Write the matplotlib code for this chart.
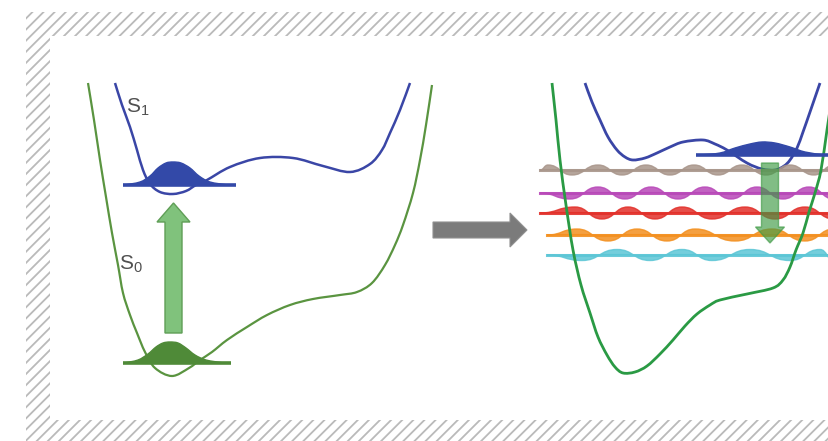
import numpy as np
import matplotlib
matplotlib.use("Agg")
from matplotlib import pyplot as plt
from matplotlib.path import Path
from matplotlib.patches import PathPatch, Rectangle, FancyArrow

W, H = 829, 441

# potential curves, points (pixel coords, y down)
S0_LEFT_X = [88, 94, 100, 106, 112, 118, 123, 130, 137, 145, 155, 172, 189, 200, 212, 227, 247,
             267, 290, 313, 340, 357, 372, 385, 395, 403, 413, 420, 426, 432]
S0_LEFT_Y = [83, 120, 160, 197, 233, 265, 293, 315, 333, 352, 368, 376, 368, 360, 352, 340, 327,
             315, 305, 299, 295, 292, 283, 265, 245, 225, 193, 160, 125, 85]
S1_LEFT_X = [115, 122, 130, 137, 143, 150, 160, 173, 186, 196, 207, 230, 260, 293, 323, 350, 370,
             382, 390, 400, 410]
S1_LEFT_Y = [83, 105, 127, 150, 170, 184, 192, 194, 191, 185, 180, 167, 158, 158, 166, 172, 164,
             150, 133, 110, 83]
S0_RIGHT_X = [552, 556, 560, 566, 573, 581, 590, 598, 607, 615, 623, 635, 647, 660, 673, 685, 697,
              710, 720, 747, 773, 783, 790, 796, 803, 809, 815, 821, 827, 833]
S0_RIGHT_Y = [83, 120, 160, 205, 250, 285, 313, 337, 355, 367, 373, 372, 366, 354, 340, 326, 314,
              305, 300, 294, 288, 280, 267, 250, 233, 212, 193, 170, 130, 90]
S1_RIGHT_X = [585, 592, 600, 608, 617, 625, 633, 645, 657, 670, 683, 703, 715, 727, 747, 762, 775,
              784, 790, 797, 803, 810, 820]
S1_RIGHT_Y = [83, 102, 120, 137, 150, 157, 160, 158, 153, 147, 142, 140, 144, 150, 163, 169, 170,
              166, 160, 148, 132, 112, 83]

# wave packets: outline points of each bell, baseline tails
BELL_X = [
    [124, 140, 150, 158, 166, 173, 181, 190, 199, 210, 228],
    [124, 138, 148, 156, 163, 170, 178, 186, 195, 206, 224],
    [700, 720, 735, 750, 762, 775, 790, 805, 824],
]
BELL_Y = [
    [185, 182, 176, 168, 163, 162, 163, 168, 176, 182, 185],
    [363, 360, 354, 347, 343, 342, 343, 348, 355, 360, 363],
    [155, 153, 148, 144, 142, 143, 147, 152, 155],
]
PACKET_TAIL = [(123, 236), (123, 231), (696, 832)]
PACKET_COLOR = ["#3349a8", "#4f8a38", "#3349a8"]

# vibrational levels on the right: baseline, start x, extrema x, amplitude
WAVE_BASE = [170, 193, 213, 235, 255]
WAVE_START = [540, 540, 540, 547, 547]
WAVE_EXT = [
    [548, 572, 598, 622, 646, 670, 694, 718, 742, 766, 790, 814],
    [570, 598, 625, 651, 678, 705, 731, 757, 783, 809],
    [575, 602, 628, 655, 682, 712, 745, 775, 805],
    [577, 608, 637, 667, 695, 735, 772, 805],
    [582, 617, 650, 682, 712, 750, 790, 820],
]
WAVE_FIRST_UP = [True, False, True, True, False]
WAVE_AMP = [5.0, 6.0, 6.0, 6.0, 5.5]
WAVE_COLOR = ["#a8958a", "#b848b8", "#e2302a", "#f39020", "#5cc6d6"]


def smooth_path(xs, ys, close=False):
    pts = np.column_stack([xs, ys]).astype(float)
    n = len(pts)
    verts = [pts[0]]
    codes = [Path.MOVETO]
    for i in range(n - 1):
        p0 = pts[i - 1] if i > 0 else pts[i]
        p1, p2 = pts[i], pts[i + 1]
        p3 = pts[i + 2] if i + 2 < n else pts[i + 1]
        verts += [p1 + (p2 - p0) / 6, p2 - (p3 - p1) / 6, p2]
        codes += [Path.CURVE4] * 3
    if close:
        verts.append(pts[0])
        codes.append(Path.CLOSEPOLY)
    return Path(verts, codes)


def flat_path(nodes, close_to=None):
    # cubic pieces with horizontal tangents at every node
    verts = [nodes[0]]
    codes = [Path.MOVETO]
    for (x0, y0), (x1, y1) in zip(nodes[:-1], nodes[1:]):
        d = (x1 - x0) / 2
        verts += [(x0 + d, y0), (x1 - d, y1), (x1, y1)]
        codes += [Path.CURVE4] * 3
    if close_to is not None:
        verts += [close_to, nodes[0]]
        codes += [Path.LINETO, Path.CLOSEPOLY]
    return Path(verts, codes)


plt.rcParams["hatch.linewidth"] = 1.3
fig = plt.figure(figsize=(W / 100, H / 100), dpi=100)
ax = fig.add_axes([0, 0, 1, 1])
ax.set_xlim(0, W)
ax.set_ylim(H, 0)
ax.axis("off")

# hatched frame
ax.add_patch(Rectangle((26, 12), 820, 440, facecolor="white", edgecolor="#bababa",
                       hatch="///", linewidth=0, zorder=0))
ax.add_patch(Rectangle((50, 36), 800, 384, facecolor="white", edgecolor="none", zorder=0.5))

# curves
ax.add_patch(PathPatch(smooth_path(S0_LEFT_X, S0_LEFT_Y), fill=False, edgecolor="#5a9440",
                       linewidth=1.6, zorder=2))
ax.add_patch(PathPatch(smooth_path(S1_LEFT_X, S1_LEFT_Y), fill=False, edgecolor="#3a46a6",
                       linewidth=1.8, zorder=2))
ax.add_patch(PathPatch(smooth_path(S0_RIGHT_X, S0_RIGHT_Y), fill=False, edgecolor="#2a9a44",
                       linewidth=2.0, zorder=4))
ax.add_patch(PathPatch(smooth_path(S1_RIGHT_X, S1_RIGHT_Y), fill=False, edgecolor="#3a46a6",
                       linewidth=2.0, zorder=2))

# waves
for base, x0, ext, up, amp, col in zip(WAVE_BASE, WAVE_START, WAVE_EXT, WAVE_FIRST_UP,
                                       WAVE_AMP, WAVE_COLOR):
    nodes = [(x0, base)]
    sign = -1 if up else 1
    for xe in ext:
        nodes.append((xe, base + sign * amp))
        sign = -sign
    nodes.append((W + 5, base + sign * amp))
    ax.add_patch(PathPatch(flat_path(nodes, close_to=(W + 5, base)), facecolor=col,
                           edgecolor=col, linewidth=1.0, alpha=0.85, zorder=3))
    ax.plot([x0, W + 5], [base, base], color=col, linewidth=2.2, alpha=0.9, zorder=3)

# wave packets
for bx, by, tail, col in zip(BELL_X, BELL_Y, PACKET_TAIL, PACKET_COLOR):
    ax.add_patch(PathPatch(smooth_path(bx, by, close=True), facecolor=col,
                           edgecolor=col, linewidth=1.0, zorder=5))
    ax.plot(tail, [by[0], by[0]], color=col, linewidth=2.6, solid_capstyle="butt", zorder=5)

# arrows
ax.add_patch(FancyArrow(433, 230, 94, 0, width=16, head_width=34, head_length=17,
                        length_includes_head=True, facecolor="#7b7b7b", edgecolor="#909090",
                        linewidth=0.8, zorder=6))
ax.add_patch(FancyArrow(173.5, 333, 0, -130, width=17, head_width=33, head_length=19,
                        length_includes_head=True, facecolor="#80c27c", edgecolor="#5f9e56",
                        linewidth=1.0, zorder=6))
ax.add_patch(FancyArrow(770, 163, 0, 80, width=17, head_width=29, head_length=16,
                        length_includes_head=True, facecolor="#3e9a44", edgecolor="#3e9a44",
                        linewidth=1.0, alpha=0.65, zorder=6))

# labels
ax.text(126, 113, r"$\mathregular{S_1}$", fontsize=15, color="#505050",
        family="Liberation Sans", ha="left", va="baseline", zorder=7)
ax.text(119, 270, r"$\mathregular{S_0}$", fontsize=15, color="#505050",
        family="Liberation Sans", ha="left", va="baseline", zorder=7)

fig.savefig("out.png", dpi=100)
